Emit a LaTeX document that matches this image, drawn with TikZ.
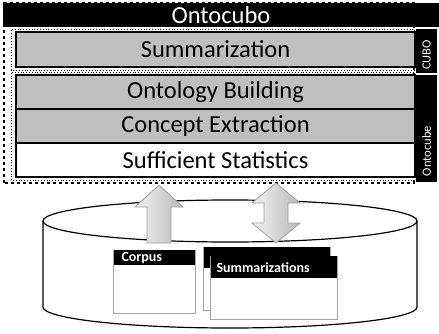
\documentclass[tikz,border=0pt]{standalone}
\usepackage{fontspec}
\setmainfont{Carlito}
\usepackage{tikz}
\usetikzlibrary{positioning}
\definecolor{layergray}{HTML}{BFBFBF}
\definecolor{docgray}{HTML}{A6A6A6}
\tikzset{
  layer/.style={draw=black,line width=1.2pt,fill=layergray,minimum width=399pt,minimum height=34pt,inner sep=0pt,outer sep=0pt,font=\fontsize{24.5}{27}\selectfont},
  strip/.style={fill=black,inner sep=0pt,outer sep=0pt,minimum width=21pt},
  striplabel/.style={text=white,rotate=90,inner sep=0pt,font=\fontsize{12.5}{14}\selectfont},
  docbody/.style={draw=docgray,line width=1pt,fill=white,inner sep=0pt},
  dochead/.style={fill=black,inner sep=0pt},
  doclabel/.style={text=white,anchor=west,inner sep=0pt,font=\bfseries\fontsize{14}{16}\selectfont},
  blockarrow/.style={draw=gray!75,line width=0.8pt,left color=gray!10,right color=gray!55},
  group/.style={dotted,line width=0.8pt},
}
\begin{document}
\begin{tikzpicture}[x=1pt,y=1pt]
  \useasboundingbox (0,0) rectangle (439,333);
  % frames round the layers
  \draw[dashed,line width=1.5pt] (4,150) rectangle (414,330);
  \draw[group] (11,263) rectangle (414,304);
  \draw[group] (11,153) rectangle (414,261);
  \node[fill=black,text=white,minimum width=436pt,minimum height=24pt,inner sep=0pt,font=\fontsize{24.5}{27}\selectfont] (ontocubo) at (221,318) {Ontocubo};
  % layers
  \node[layer,minimum height=35pt] (summ) at (215.5,283.5) {Summarization};
  \node[layer] (ontobuild) at (215.5,241) {Ontology Building};
  \node[layer,below=0pt of ontobuild] (concept) {Concept Extraction};
  \node[layer,below=0pt of concept,fill=white] (suffstat) {Sufficient Statistics};
  \node[strip,minimum height=44pt] (cubostrip) at (426.5,282) {};
  \node[striplabel] (cubolabel) at (426.5,278) {CUBO};
  \node[strip,minimum height=107pt] (ontostrip) at (426.5,204.5) {};
  \node[striplabel] (ontolabel) at (426.5,182) {Ontocube};
  % database
  \coordinate (dbtop) at (230,112);
  \draw[line width=1.2pt,fill=white] (43,112) -- (43,26) arc[start angle=180,end angle=360,x radius=187,y radius=21] -- (417,112);
  \draw[line width=1.2pt] (dbtop) ellipse[x radius=187,y radius=21];
  \node[docbody,minimum width=82pt,minimum height=63pt] (corpus) at (154,51.5) {};
  \node[dochead,minimum width=81pt,minimum height=15pt,anchor=north] (corpushead) at ([yshift=-0.5pt]corpus.north) {};
  \node[doclabel] at ([xshift=8pt]corpushead.west) {Corpus};
  \node[docbody,minimum width=127pt,minimum height=63pt] (sumback) at (266.5,54.5) {};
  \node[dochead,minimum width=126pt,minimum height=21pt,anchor=north] (sumbackhead) at ([yshift=-0.5pt]sumback.north) {};
  \node[docbody,minimum width=127pt,minimum height=63pt] (sumfront) at (273.5,45.5) {};
  \node[dochead,minimum width=126pt,minimum height=22pt,anchor=north] (sumfronthead) at ([yshift=-0.5pt]sumfront.north) {};
  \node[doclabel] at ([xshift=6pt]sumfronthead.west) {Summarizations};
  % block arrows
  \coordinate (corpusup) at (159,90);
  \coordinate (sumio) at (276,90);
  \path[blockarrow] (corpusup) ++(-12,0) -- ++(0,36) -- ++(-12,0) -- ++(24,22) -- ++(24,-22) -- ++(-12,0) -- ++(0,-36) -- cycle;
  \path[blockarrow] (sumio) -- ++(24,20) -- ++(-12,0) -- ++(0,20) -- ++(12,0) -- ++(-24,20) -- ++(-24,-20) -- ++(12,0) -- ++(0,-20) -- ++(-12,0) -- cycle;
\end{tikzpicture}
\end{document}
